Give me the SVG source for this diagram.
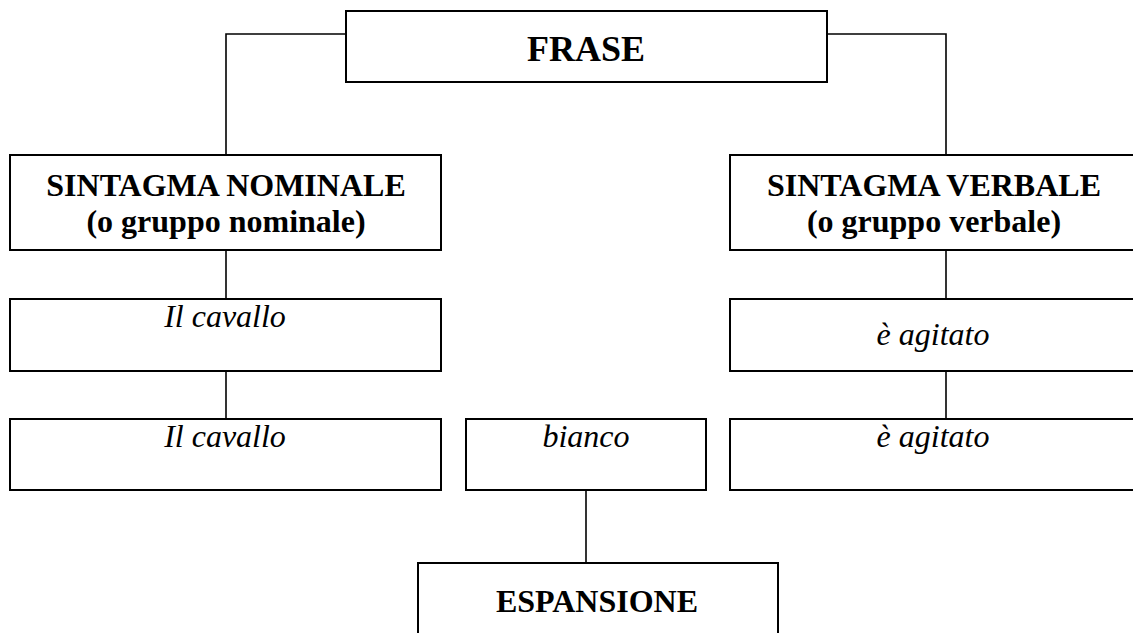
<svg xmlns="http://www.w3.org/2000/svg" width="1133" height="633" viewBox="0 0 1133 633">
<style>
.box{fill:#fff;stroke:#000;stroke-width:2}
.con{fill:none;stroke:#000;stroke-width:1.6}
.b{font-family:"Liberation Serif","Times New Roman",serif;font-weight:bold;font-size:32px;text-anchor:middle;fill:#000}
.i{font-family:"Liberation Serif","Times New Roman",serif;font-style:italic;font-size:32px;text-anchor:middle;fill:#000}
</style>
<rect width="1133" height="633" fill="#fff"/>
<g id="connectors">
<polyline class="con" points="346,34 226,34 226,155"/>
<polyline class="con" points="827,34 946,34 946,155"/>
<line class="con" x1="226" y1="250" x2="226" y2="299"/>
<line class="con" x1="226" y1="371" x2="226" y2="419"/>
<line class="con" x1="946" y1="250" x2="946" y2="299"/>
<line class="con" x1="946" y1="371" x2="946" y2="419"/>
<line class="con" x1="586" y1="490" x2="586" y2="563"/>
</g>
<g id="frase">
<rect class="box" x="346" y="11" width="481" height="71"/>
<text class="b" x="586" y="61" style="font-size:36px">FRASE</text>
</g>
<g id="sn">
<rect class="box" x="10" y="155" width="431" height="95"/>
<text class="b" x="226" y="196">SINTAGMA NOMINALE</text>
<text class="b" x="226" y="232">(o gruppo nominale)</text>
</g>
<g id="sv">
<rect class="box" x="730" y="155" width="431" height="95"/>
<text class="b" x="934" y="196">SINTAGMA VERBALE</text>
<text class="b" x="934" y="232">(o gruppo verbale)</text>
</g>
<g id="cavallo1">
<rect class="box" x="10" y="299" width="431" height="72"/>
<text class="i" x="225" y="327">Il cavallo</text>
</g>
<g id="agitato1">
<rect class="box" x="730" y="299" width="431" height="72"/>
<text class="i" x="933" y="345">è agitato</text>
</g>
<g id="cavallo2">
<rect class="box" x="10" y="419" width="431" height="71"/>
<text class="i" x="225" y="447">Il cavallo</text>
</g>
<g id="bianco">
<rect class="box" x="466" y="419" width="240" height="71"/>
<text class="i" x="586" y="447">bianco</text>
</g>
<g id="agitato2">
<rect class="box" x="730" y="419" width="431" height="71"/>
<text class="i" x="933" y="447">è agitato</text>
</g>
<g id="espansione">
<rect class="box" x="418" y="563" width="360" height="100"/>
<text class="b" x="597" y="612">ESPANSIONE</text>
</g>
</svg>
